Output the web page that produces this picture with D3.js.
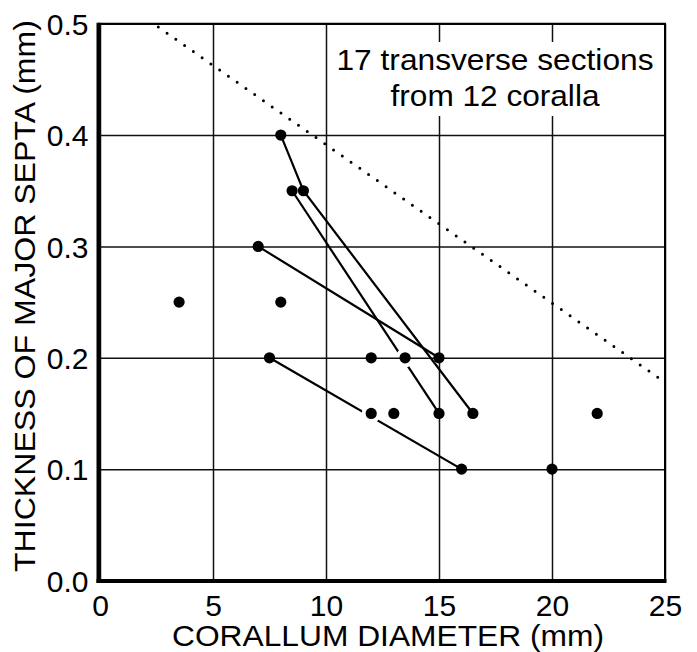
<!DOCTYPE html>
<html><head><meta charset="utf-8">
<script src="https://cdn.jsdelivr.net/npm/d3@7"></script>
<style>
body{margin:0;background:#fff}
text{font-family:"Liberation Sans",Arial,Helvetica,sans-serif;fill:#000}
</style>
</head><body>
<svg id="c" width="697" height="652"></svg>
<script>
// ---- data ----
const xTicks = [0, 5, 10, 15, 20, 25];
const yTicks = [0, 0.1, 0.2, 0.3, 0.4, 0.5];
const diameter  = [3.5, 8, 8.5, 9, 7, 8, 7.5, 12, 13.5, 15, 12, 13, 15, 16.5, 16, 20, 22];
const thickness = [0.25, 0.4, 0.35, 0.35, 0.3, 0.25, 0.2, 0.2, 0.2, 0.2, 0.15, 0.15, 0.15, 0.15, 0.1, 0.1, 0.15];
// sections of the same corallum joined by lines: [diameter, thickness]
const seriesA = [[8, 0.4], [9, 0.35], [16.5, 0.15]];
const seriesB = [[8.5, 0.35], [15, 0.15]];
const seriesC = [[7, 0.3], [15, 0.2]];
const seriesD = [[7.5, 0.2], [16, 0.1]];
const gapsB = [[13.5, 0.2]];
const gapsD = [[12, 0.15]];
const limitLine = [[2.58, 0.497], [25, 0.178]];
const xLabel = "CORALLUM DIAMETER (mm)";
const yLabel = "THICKNESS OF MAJOR SEPTA (mm)";
const note = ["17 transverse sections", "from 12 coralla"];

// ---- chart ----
const svg = d3.select("#c");
const x = d3.scaleLinear().domain([0, 25]).range([100, 665]);
const y = d3.scaleLinear().domain([0, 0.5]).range([580.5, 23.7]);
const ink = "#000";

// grid
const gx = svg.append("g").attr("transform", `translate(0,${y(0)})`)
  .call(d3.axisBottom(x).tickValues(xTicks).tickSize(-(y(0) - y(0.5))).tickFormat(""));
gx.select(".domain").remove();
gx.selectAll("line").attr("stroke", "#111").attr("stroke-width", 1.5);

const gy = svg.append("g").attr("transform", `translate(${x(0)},0)`)
  .call(d3.axisLeft(y).tickValues(yTicks).tickSize(-(x(25) - x(0))).tickFormat(""));
gy.select(".domain").remove();
gy.selectAll("line").attr("stroke", "#111").attr("stroke-width", 1.5);

// top and right border
svg.append("line").attr("x1", x(0) - 2).attr("x2", x(25) + 1)
  .attr("y1", y(0.5)).attr("y2", y(0.5)).attr("stroke", ink).attr("stroke-width", 2);
svg.append("line").attr("x1", x(25)).attr("x2", x(25))
  .attr("y1", y(0.5)).attr("y2", y(0)).attr("stroke", ink).attr("stroke-width", 2);

// note box
svg.append("rect").attr("x", 330).attr("y", 42).attr("width", 332).attr("height", 74).attr("fill", "#fff");
svg.append("g").selectAll("text").data(note).join("text")
  .attr("x", 495).attr("y", (d, i) => 69.5 + i * 36.7)
  .attr("text-anchor", "middle").attr("font-size", 29)
  .attr("textLength", (d, i) => i === 0 ? 317 : 209).attr("lengthAdjust", "spacingAndGlyphs")
  .text(d => d);

// dotted limit line
const line = d3.line().x(d => x(d[0])).y(d => y(d[1]));
svg.append("path").attr("d", line(limitLine)).attr("fill", "none")
  .attr("stroke", ink).attr("stroke-width", 3).attr("stroke-linecap", "round")
  .attr("stroke-dasharray", "0 10.7");

// masks for gaps
const defs = svg.append("defs");
function makeMask(id, gaps) {
  const m = defs.append("mask").attr("id", id).attr("maskUnits", "userSpaceOnUse")
    .attr("x", 0).attr("y", 0).attr("width", 697).attr("height", 652);
  m.append("rect").attr("width", 697).attr("height", 652).attr("fill", "#fff");
  m.selectAll("circle").data(gaps).join("circle")
    .attr("cx", d => x(d[0])).attr("cy", d => y(d[1])).attr("r", 9.5).attr("fill", "#000");
}
makeMask("mB", gapsB);
makeMask("mD", gapsD);

const series = [[seriesA, null], [seriesB, "mB"], [seriesC, null], [seriesD, "mD"]];
series.forEach(([s, m]) => {
  const p = svg.append("path").attr("d", line(s)).attr("fill", "none")
    .attr("stroke", ink).attr("stroke-width", 2.2);
  if (m) p.attr("mask", `url(#${m})`);
});

// points
svg.append("g").selectAll("circle").data(diameter).join("circle")
  .attr("cx", d => x(d)).attr("cy", (d, i) => y(thickness[i])).attr("r", 5.6).attr("fill", ink);

// thick axes
svg.append("line").attr("x1", x(0) - 1.5).attr("x2", x(0) - 1.5)
  .attr("y1", y(0.5) - 1).attr("y2", y(0) + 2.5).attr("stroke", ink).attr("stroke-width", 4);
svg.append("line").attr("x1", x(0) - 3.5).attr("x2", x(25) + 1.5)
  .attr("y1", y(0) + 0.5).attr("y2", y(0) + 0.5).attr("stroke", ink).attr("stroke-width", 4);

// tick labels
const ax = svg.append("g").attr("transform", `translate(0,${y(0)})`)
  .call(d3.axisBottom(x).tickValues(xTicks).tickSize(0).tickFormat(d3.format("d")));
ax.select(".domain").remove();
ax.selectAll("text").attr("y", 35).attr("dy", 0).attr("font-size", 30)
  .attr("font-family", null).attr("fill", ink);

const ay = svg.append("g").attr("transform", `translate(${x(0)},0)`)
  .call(d3.axisLeft(y).tickValues(yTicks).tickSize(0).tickFormat(d3.format(".1f")));
ay.select(".domain").remove();
ay.selectAll("text").attr("x", -11.5).attr("dy", "0.36em").attr("font-size", 30)
  .attr("font-family", null).attr("fill", ink);

// axis titles
svg.append("text").attr("x", 388).attr("y", 646).attr("text-anchor", "middle")
  .attr("font-size", 30).attr("textLength", 432).attr("lengthAdjust", "spacingAndGlyphs")
  .text(xLabel);
svg.append("text").attr("transform", "translate(35,296) rotate(-90)").attr("text-anchor", "middle")
  .attr("font-size", 29).attr("textLength", 552).attr("lengthAdjust", "spacingAndGlyphs")
  .text(yLabel);
</script>
</body></html>
